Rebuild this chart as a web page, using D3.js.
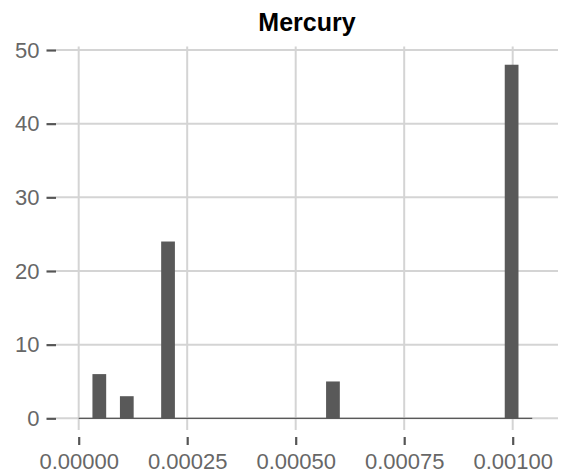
<!DOCTYPE html>
<html>
<head>
<meta charset="utf-8">
<script src="https://cdn.jsdelivr.net/npm/d3@7"></script>
<style>
  html, body { margin: 0; padding: 0; background: #ffffff; }
  svg { display: block; }
</style>
</head>
<body>
<div id="chart"></div>
<script>
// ---- data ----
const title = "Mercury";
const binStart = 0;
const binWidth = 0.00095 / 30;
const binCounts = [0, 6, 0, 3, 0, 0, 24, 0, 0, 0, 0, 0, 0, 0, 0, 0, 0, 0, 5, 0, 0, 0, 0, 0, 0, 0, 0, 0, 0, 0, 0, 48, 0];
const xTicks = [0, 0.00025, 0.0005, 0.00075, 0.001];
const xTickLabels = ["0.00000", "0.00025", "0.00050", "0.00075", "0.00100"];
const yTicks = [0, 10, 20, 30, 40, 50];

const bins = binCounts.map((c, i) => ({ x0: binStart + i * binWidth, x1: binStart + (i + 1) * binWidth, count: c }));

// ---- layout ----
const W = 565, H = 476;
const panel = { left: 56, right: 558, top: 46.5, bottom: 430 };

const x = d3.scaleLinear().domain([0, 0.001]).range([78.7, 512.7]);
const y = d3.scaleLinear().domain([0, 50]).range([418.3, 50]);

const svg = d3.select("#chart").append("svg").attr("width", W).attr("height", H);

const gridColor = "#d4d4d4";
const tickColor = "#555555";
const textColor = "#676767";
const font = "'Liberation Sans', Arial, Helvetica, sans-serif";

// horizontal grid
svg.append("g").selectAll("line").data(yTicks).join("line")
  .attr("x1", panel.left).attr("x2", panel.right)
  .attr("y1", d => y(d)).attr("y2", d => y(d))
  .attr("stroke", gridColor).attr("stroke-width", 2);

// vertical grid
svg.append("g").selectAll("line").data(xTicks).join("line")
  .attr("x1", d => x(d)).attr("x2", d => x(d))
  .attr("y1", panel.top).attr("y2", panel.bottom)
  .attr("stroke", gridColor).attr("stroke-width", 2);

// bars
svg.append("g").selectAll("rect").data(bins).join("rect")
  .attr("x", d => x(d.x0))
  .attr("width", d => x(d.x1) - x(d.x0))
  .attr("y", d => y(d.count))
  .attr("height", d => y(0) - y(d.count))
  .attr("fill", "#595959");

// baseline of histogram (zero-height bins)
svg.append("line")
  .attr("x1", x(bins[0].x0)).attr("x2", x(bins[bins.length - 1].x1))
  .attr("y1", y(0)).attr("y2", y(0))
  .attr("stroke", "#595959").attr("stroke-width", 1.2);

// y axis ticks and labels
const yAxis = d3.axisLeft(y).tickValues(yTicks).tickSize(9.5).tickPadding(7);
const gy = svg.append("g").attr("transform", `translate(${panel.left},0)`).call(yAxis);
gy.select(".domain").remove();
gy.selectAll(".tick line").attr("stroke", tickColor).attr("stroke-width", 2.2);
gy.selectAll(".tick text").attr("fill", textColor).style("font-family", font).style("font-size", "22px");

// x axis ticks and labels
const xAxis = d3.axisBottom(x).tickValues(xTicks).tickFormat((d, i) => xTickLabels[i]).tickSize(8).tickPadding(8);
const gx = svg.append("g").attr("transform", `translate(0,437)`).call(xAxis);
gx.select(".domain").remove();
gx.selectAll(".tick line").attr("stroke", tickColor).attr("stroke-width", 2.2);
gx.selectAll(".tick text").attr("fill", textColor).style("font-family", font).style("font-size", "22px");

// title
svg.append("text")
  .attr("x", (panel.left + panel.right) / 2)
  .attr("y", 31)
  .attr("text-anchor", "middle")
  .attr("fill", "#000000")
  .style("font-family", font)
  .style("font-weight", "bold")
  .style("font-size", "25px")
  .text(title);
</script>
</body>
</html>
